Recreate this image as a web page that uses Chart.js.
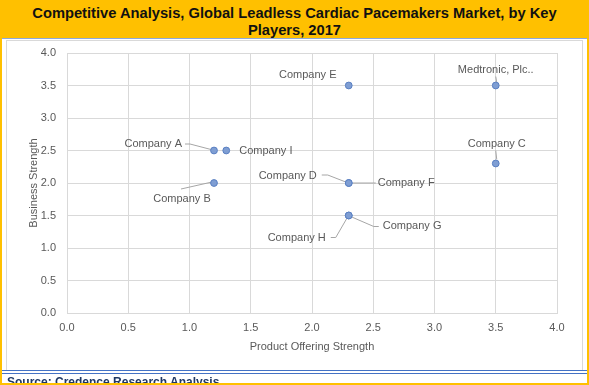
<!DOCTYPE html>
<html>
<head>
<meta charset="utf-8">
<script src="https://cdn.jsdelivr.net/npm/chart.js@4/dist/chart.umd.min.js"></script>
<style>
  html, body { margin: 0; padding: 0; background: #fff; }
  body { width: 589px; height: 385px; position: relative; overflow: hidden; font-family: "Liberation Sans", Arial, sans-serif; }
  #frame { position: absolute; left: 0; top: 0; width: 589px; height: 385px; box-sizing: border-box; border: 2px solid #FFC000; }
  #title { position: absolute; left: 0; top: 0; width: 589px; height: 38px; background: #FFC000; color: #111; font-weight: bold; font-size: 14.7px; line-height: 17px; text-align: center; padding-top: 5px; box-sizing: border-box; }
  #topline { position: absolute; left: 2px; top: 38px; width: 585px; height: 1px; background: #8EA9DB; }
  #box { position: absolute; left: 6px; top: 40px; width: 577px; height: 331px; box-sizing: border-box; border: 1px solid #D9D9D9; border-bottom: none; }
  #wrap { position: absolute; left: 7px; top: 41px; width: 575px; height: 329px; }
  #wrap canvas { display: block; }
  #lines { position: absolute; left: 2px; top: 370px; width: 585px; height: 4px; box-sizing: border-box; border-top: 1px solid #4472C4; border-bottom: 1px solid #4472C4; }
  #source { position: absolute; left: 7px; top: 375px; color: #1F3864; font-weight: bold; font-size: 12px; white-space: nowrap; }
</style>
</head>
<body>
<div id="title">Competitive Analysis, Global Leadless Cardiac Pacemakers Market, by Key<br>Players, 2017</div>
<div id="topline"></div>
<div id="box"></div>
<div id="wrap"><canvas id="chart" width="575" height="329"></canvas></div>
<div id="lines"></div>
<div id="source">Source: Credence Research Analysis</div>
<div id="frame"></div>
<script>
const companies = ['Company A', 'Company I', 'Company B', 'Company D', 'Company F', 'Company E', 'Medtronic, Plc..', 'Company C', 'Company G', 'Company H'];
const productStrength = [1.2, 1.3, 1.2, 2.3, 2.3, 2.3, 3.5, 3.5, 2.3, 2.3];
const businessStrength = [2.5, 2.5, 2.0, 2.0, 2.0, 3.5, 3.5, 2.3, 1.5, 1.5];
const axisMin = 0;
const axisMax = 4;
const axisStep = 0.5;

// label placement relative to each marker, in px (text offset, alignment, leader path)
const labelPlacement = [
  { dx: -32, dy: -6.5, align: 'right', leader: [[-29, -6.5], [-24, -6.5], [-3, -1]] },
  { dx: 13, dy: 0, align: 'left' },
  { dx: -32, dy: 16, align: 'center', leader: [[-33, 6], [-2, -1]] },
  { dx: -32, dy: -7, align: 'right', leader: [[-27, -8], [-21, -8], [-3, -1]] },
  { dx: 29, dy: 0, align: 'left', leader: [[4, 0], [27, 0]] },
  { dx: -41, dy: -10.5, align: 'center' },
  { dx: 0, dy: -16, align: 'center', leader: [[0, -9], [1, -3]] },
  { dx: 1, dy: -20, align: 'center', leader: [[0, -13], [1, -4]] },
  { dx: 34, dy: 10.5, align: 'left', leader: [[3, 1.5], [25, 11], [30, 11]] },
  { dx: -23, dy: 22, align: 'right', leader: [[-18, 22], [-13, 22], [-2, 3]] }
];

const fontFamily = '"Liberation Sans", Arial, sans-serif';
const textGrey = '#595959';

const pointLabels = {
  id: 'pointLabels',
  beforeDatasetsDraw(chart) {
    const ctx = chart.ctx;
    const meta = chart.getDatasetMeta(0);
    ctx.save();
    ctx.strokeStyle = '#A6A6A6';
    ctx.lineWidth = 1;
    meta.data.forEach((pt, i) => {
      const p = labelPlacement[i];
      if (!p.leader) return;
      ctx.beginPath();
      p.leader.forEach(([dx, dy], k) => {
        if (k === 0) ctx.moveTo(pt.x + dx, pt.y + dy);
        else ctx.lineTo(pt.x + dx, pt.y + dy);
      });
      ctx.stroke();
    });
    ctx.restore();
  },
  afterDatasetsDraw(chart) {
    const ctx = chart.ctx;
    const meta = chart.getDatasetMeta(0);
    ctx.save();
    ctx.font = '11px ' + fontFamily;
    ctx.fillStyle = textGrey;
    ctx.textBaseline = 'middle';
    meta.data.forEach((pt, i) => {
      const p = labelPlacement[i];
      ctx.textAlign = p.align;
      ctx.fillText(companies[i], pt.x + p.dx, pt.y + p.dy);
    });
    ctx.restore();
  }
};

const points = productStrength.map((x, i) => ({ x: x, y: businessStrength[i] }));

new Chart(document.getElementById('chart').getContext('2d'), {
  type: 'scatter',
  data: {
    datasets: [{
      label: 'Key Players',
      data: points,
      backgroundColor: '#7F9ED3',
      borderColor: '#5A80C2',
      borderWidth: 1,
      pointRadius: 3.4
    }]
  },
  options: {
    responsive: false,
    animation: false,
    layout: { padding: { top: 12, right: 25, bottom: 0, left: 0 } },
    plugins: {
      legend: { display: false },
      tooltip: { enabled: false }
    },
    scales: {
      x: {
        type: 'linear',
        min: axisMin,
        max: axisMax,
        afterFit: s => { s.height = 57; s.paddingLeft = 0; s.paddingRight = 0; },
        grid: { color: '#D9D9D9', drawTicks: false },
        border: { color: '#D9D9D9' },
        ticks: {
          stepSize: axisStep,
          padding: 8,
          color: textGrey,
          font: { family: fontFamily, size: 11 },
          callback: v => v.toFixed(1)
        },
        title: {
          display: true,
          text: 'Product Offering Strength',
          color: textGrey,
          font: { family: fontFamily, size: 11 },
          padding: { top: 0, bottom: 16 }
        }
      },
      y: {
        type: 'linear',
        min: axisMin,
        max: axisMax,
        afterFit: s => { s.width = 60; s.paddingTop = 0; s.paddingBottom = 0; },
        grid: { color: '#D9D9D9', drawTicks: false },
        border: { color: '#D9D9D9' },
        ticks: {
          stepSize: axisStep,
          padding: 11,
          color: textGrey,
          font: { family: fontFamily, size: 11 },
          callback: v => v.toFixed(1)
        },
        title: {
          display: true,
          text: 'Business Strength',
          color: textGrey,
          font: { family: fontFamily, size: 11 },
          padding: { top: 20, bottom: 0 }
        }
      }
    }
  },
  plugins: [pointLabels]
});
</script>
</body>
</html>
